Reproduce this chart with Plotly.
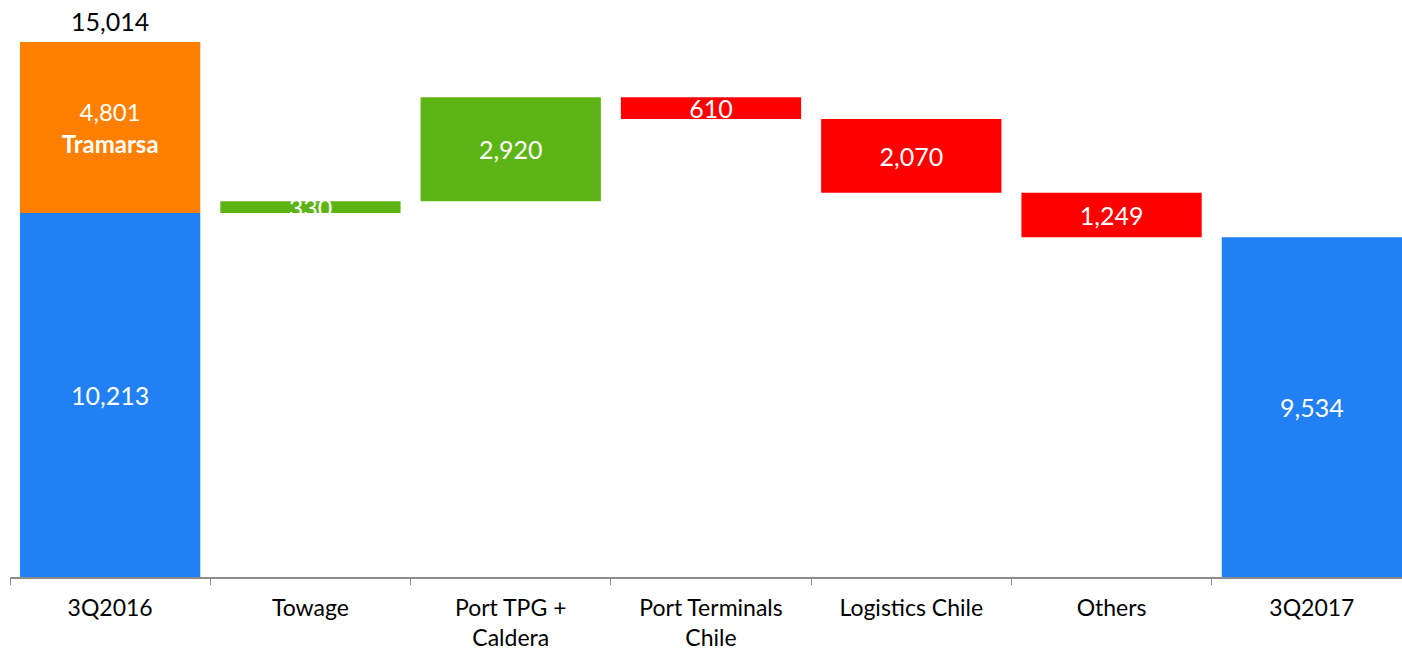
import plotly.graph_objects as go
import numpy as np

categories = ["3Q2016", "Towage", "Port TPG +<br>Caldera", "Port Terminals<br>Chile",
              "Logistics Chile", "Others", "3Q2017"]
start_base = 10213
tramarsa = 4801
start_total = 15014
changes = [330, 2920, -610, -2070, -1249]
end_value = 9534
change_labels = ["330", "2,920", "610", "2,070", "1,249"]

BLUE = "#2180F3"
ORANGE = "#FF8000"
GREEN = "#5DB515"
RED = "#FF0000"
FONT = "Lato"
LABEL_SIZE = 25

fig = go.Figure()

# Totals (blue)
fig.add_trace(go.Bar(
    x=[categories[0], categories[6]], y=[start_base, end_value], base=[0, 0],
    marker=dict(color=BLUE, line=dict(width=0)), width=0.9,
    text=["10,213", "9,534"], textposition="inside", insidetextanchor="middle",
    textfont=dict(color="white", size=LABEL_SIZE, family=FONT), constraintext="none",
    showlegend=False, hoverinfo="skip"))

# Tramarsa (orange)
fig.add_trace(go.Bar(
    x=[categories[0]], y=[tramarsa], base=[start_base],
    marker=dict(color=ORANGE, line=dict(width=0)), width=0.9,
    text=["4,801<br><b>Tramarsa</b>"], textposition="inside", insidetextanchor="middle",
    textfont=dict(color="white", size=LABEL_SIZE - 1, family=FONT), constraintext="none",
    showlegend=False, hoverinfo="skip"))

# Changes
levels = start_base + np.concatenate([[0], np.cumsum(changes)])
bases = [min(levels[i], levels[i + 1]) for i in range(len(changes))]
heights = [abs(c) for c in changes]
colors = [GREEN if c > 0 else RED for c in changes]
fig.add_trace(go.Bar(
    x=categories[1:6], y=heights, base=bases,
    marker=dict(color=colors, line=dict(width=0)), width=0.9,
    text=change_labels, textposition="inside", insidetextanchor="middle",
    textfont=dict(color="white", size=LABEL_SIZE, family=FONT), constraintext="none",
    showlegend=False, hoverinfo="skip"))

fig.add_annotation(x=categories[0], y=start_total, text="15,014", showarrow=False,
                   yanchor="bottom", yshift=4, font=dict(color="black", size=LABEL_SIZE, family=FONT))

fig.update_layout(
    width=1402, height=654,
    margin=dict(l=10, r=0, t=0, b=77),
    plot_bgcolor="white", paper_bgcolor="white",
    barmode="overlay",
    font=dict(family=FONT, size=23, color="black"),
    xaxis=dict(type="category", categoryorder="array", categoryarray=categories,
               range=[-0.5, 6.45], showline=True, linecolor="#8C8C8C",
               linewidth=1.5, ticks="outside", tickson="boundaries", ticklen=6,
               tickcolor="#8C8C8C", tickwidth=1, showgrid=False, ticklabelstandoff=10,
               tickfont=dict(size=23, family=FONT, color="black")),
    yaxis=dict(range=[0, 16192], visible=False, showgrid=False, zeroline=False),
)

fig.write_html("out.html")
